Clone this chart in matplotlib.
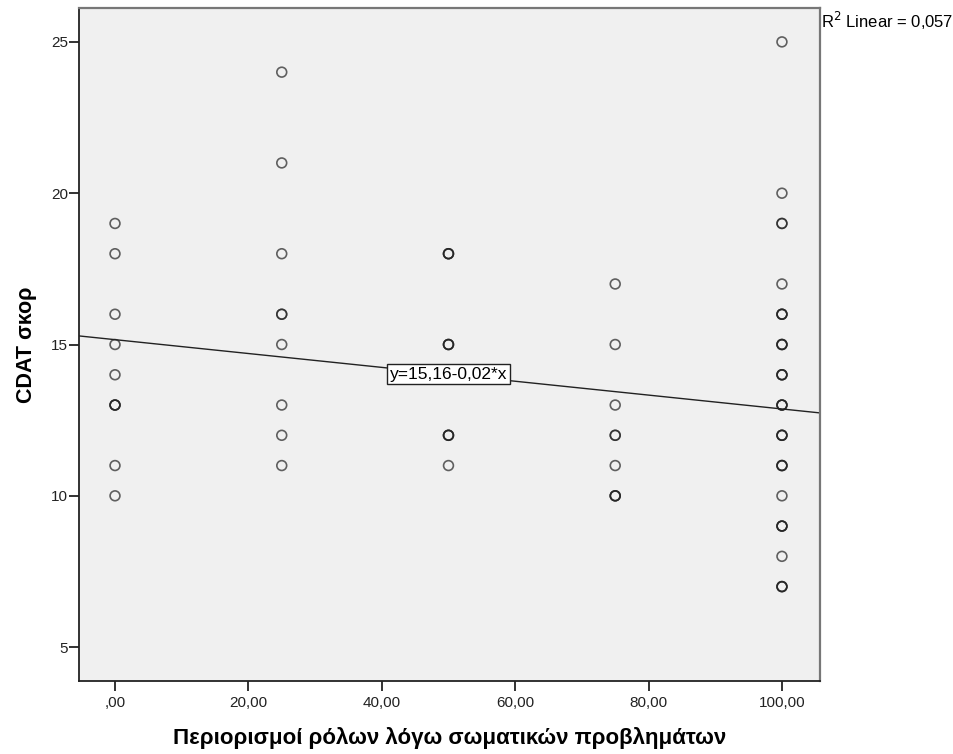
import numpy as np
from matplotlib import pyplot as plt

plt.rcParams['font.family'] = ['Liberation Sans', 'DejaVu Sans']

# x-values (role limitations), y-values (CDAT score), count of overlapping points
x_vals = [0, 0, 0, 0, 0, 0, 0, 0,
          25, 25, 25, 25, 25, 25, 25, 25,
          50, 50, 50, 50,
          75, 75, 75, 75, 75, 75,
          100, 100, 100, 100, 100, 100, 100, 100, 100, 100, 100, 100, 100, 100]
y_vals = [19, 18, 16, 15, 14, 13, 11, 10,
          24, 21, 18, 16, 15, 13, 12, 11,
          18, 15, 12, 11,
          17, 15, 13, 12, 11, 10,
          25, 20, 19, 17, 16, 15, 14, 13, 12, 11, 10, 9, 8, 7]
counts = [1, 1, 1, 1, 1, 3, 1, 1,
          1, 1, 1, 2, 1, 1, 1, 1,
          3, 3, 3, 1,
          1, 1, 1, 2, 1, 3,
          1, 1, 2, 1, 3, 3, 3, 3, 3, 3, 1, 3, 1, 3]

intercept = 15.16
slope = -0.0229
r2 = "0,057"

fig = plt.figure(figsize=(9.54, 7.54), dpi=100)
ax = fig.add_axes([0.0828, 0.0968, 0.7767, 0.8926])
ax.set_facecolor('#F0F0F0')

for xv, yv, c in zip(x_vals, y_vals, counts):
    for k in range(c):
        ax.scatter([xv], [yv], s=50, facecolors='none', edgecolors='#222222',
                   linewidths=1.2, alpha=0.7, zorder=3)

xmin, xmax = -5.4, 105.7
xl = np.array([xmin, xmax])
ax.plot(xl, intercept + slope * xl, color='#222222', lw=1.0, zorder=2)

ax.text(50, intercept + slope * 50, "y=15,16-0,02*x", ha='center', va='center',
        fontsize=12.5, zorder=4,
        bbox=dict(boxstyle='square,pad=0.15', fc='white', ec='#222222', lw=1))

ax.set_xlim(xmin, xmax)
ax.set_ylim(3.88, 26.12)
ax.set_xticks([0, 20, 40, 60, 80, 100])
ax.set_xticklabels([',00', '20,00', '40,00', '60,00', '80,00', '100,00'])
ax.set_yticks([5, 10, 15, 20, 25])
ax.tick_params(axis='both', direction='out', length=7, width=1.3,
               labelsize=11, colors='#222222', pad=1)
ax.tick_params(axis='x', pad=4)

for s in ['left', 'bottom']:
    ax.spines[s].set_color('#222222')
    ax.spines[s].set_linewidth(1.3)
for s in ['top', 'right']:
    ax.spines[s].set_color('#777777')
    ax.spines[s].set_linewidth(1.6)

ax.set_xlabel("Περιορισμοί ρόλων λόγω σωματικών προβλημάτων", fontsize=16,
              fontweight='bold', labelpad=12)
ax.set_ylabel("CDAT σκορ", fontsize=15.5, fontweight='bold', labelpad=10)

fig.text(0.8605, 0.972, "R$^2$ Linear = " + r2, fontsize=12, ha='left', va='center')

fig.savefig("out.png", dpi=100)
